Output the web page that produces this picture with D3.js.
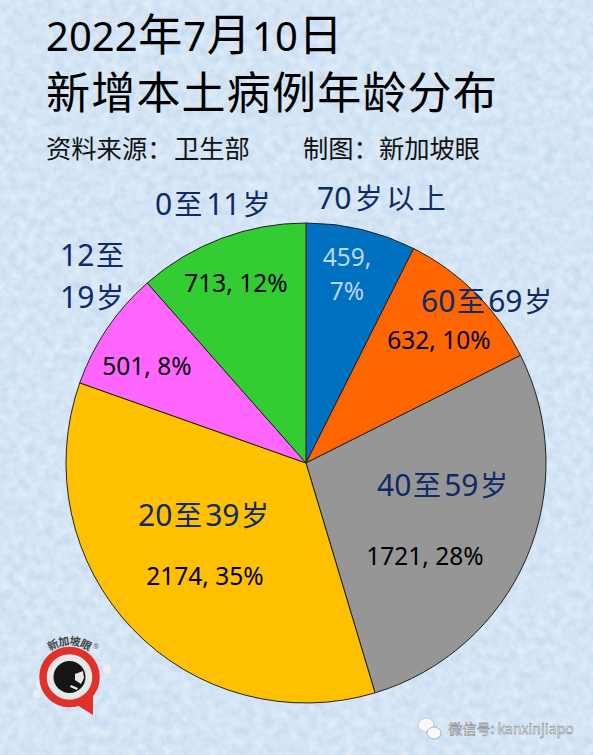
<!DOCTYPE html>
<html><head><meta charset="utf-8">
<script src="https://cdn.jsdelivr.net/npm/d3@7"></script>
<style>html,body{margin:0;padding:0;background:#d4e4f6}svg{display:block}</style>
</head><body><div id="c"></div>
<script>
const categories=["70岁以上","60至69岁","40至59岁","20至39岁","12至19岁","0至11岁"];
const cases=[459,632,1721,2174,501,713];
const percents=[7,10,28,35,8,12];
const colors=["#0070c0","#ff6600","#969696","#ffc000","#ff66ff","#33cc33"];
const W=593,H=755,cx=306,cy=463,R=240;
const svg=d3.select("#c").append("svg").attr("width",W).attr("height",H);
const defs=svg.append("defs");
const f=defs.append("filter").attr("id","paper").attr("x",0).attr("y",0).attr("width","100%").attr("height","100%").attr("color-interpolation-filters","sRGB");
f.append("feTurbulence").attr("type","fractalNoise").attr("baseFrequency","0.11").attr("numOctaves",4).attr("seed",7);
f.append("feColorMatrix").attr("type","matrix").attr("values","0.16 0 0 0 0.75  0.11 0 0 0 0.84  0.05 0 0 0 0.935  0 0 0 0 1");
svg.append("rect").attr("width",W).attr("height",H).attr("filter","url(#paper)");

const CJK='"Noto Sans CJK SC"',LAT='"Noto Sans","Open Sans",sans-serif';
function mixed(parent,s,x,y,size,latSize,fill,gap=0){
  const t=parent.append("text").attr("x",x).attr("y",y).attr("fill",fill);
  (s.match(/[\u3000-\u9fff\uff00-\uffef]+|[^\u3000-\u9fff\uff00-\uffef]+/g)||[]).forEach((r,k)=>{
    const isC=/[\u3000-\u9fff\uff00-\uffef]/.test(r[0]);
    t.append("tspan").attr("font-family",isC?CJK:LAT).attr("font-size",isC?size:latSize)
      .attr("dx",k?gap:0).attr("letter-spacing",isC?gap:0).text(r);
  });
  return t;
}
// titles
mixed(svg,"2022年7月10日",46,50.5,44,40,"#000",0.6);
mixed(svg,"新增本土病例年龄分布",46,109,44,40,"#000",1.2);
mixed(svg,"资料来源：",46,158,25.3,25,"#111");
mixed(svg,"卫生部",174,158,25.3,25,"#111");
mixed(svg,"制图：新加坡眼",303,158,25.3,25,"#111");

// pie
const pie=d3.pie().sort(null).value(d=>d)(cases);
const arc=d3.arc().innerRadius(0).outerRadius(R);
svg.append("g").attr("transform",`translate(${cx},${cy})`)
  .selectAll("path").data(pie).join("path").attr("d",arc)
  .attr("fill",(d,i)=>colors[i]).attr("stroke","#222").attr("stroke-width",1);

// value labels
const vals=svg.append("g").attr("text-anchor","middle").attr("font-family",LAT).attr("font-size",24.5);
vals.append("text").attr("x",347).attr("y",266).attr("fill","#bdd7ee").text(cases[0]+",");
vals.append("text").attr("x",347).attr("y",300).attr("fill","#bdd7ee").text(percents[0]+"%");
const valPos={1:[439,349],2:[425,565],3:[205,585],4:[147,375],5:[236,292]};
Object.keys(valPos).forEach(i=>{
  vals.append("text").attr("x",valPos[i][0]).attr("y",valPos[i][1]).attr("fill","#000")
    .text(cases[i]+", "+percents[i]+"%");
});

// category labels
const navy="#0f2a66";
const catPos=[[317,209],[421,312],[377,496],[138,526],null,[155,215]];
const catGap=[3.5,1.6,1.6,1.6,0,2];
categories.forEach((c,i)=>{
  if(catPos[i]) mixed(svg,c,catPos[i][0],catPos[i][1],28,30,navy,catGap[i]);
});
mixed(svg,"12至",60,266,28,30,navy,1.6);
mixed(svg,"19岁",60,308,28,30,navy,1.6);

// logo
const logo=svg.append("g");
logo.selectAll("circle.w").data([[107,669,4.5],[42,684,6],[37,694,4],[49,690,6]]).join("circle")
  .attr("cx",d=>d[0]).attr("cy",d=>d[1]).attr("r",d=>d[2]).attr("fill","#eef1f3").attr("opacity",.8);
logo.append("path").attr("d","M77 705 L93 715 L93 690 Z").attr("fill","#e1312a");
logo.append("circle").attr("cx",69.5).attr("cy",677).attr("r",26.5).attr("fill","#e8e8e6").attr("stroke","#e1312a").attr("stroke-width",7.5);
logo.append("circle").attr("cx",69.5).attr("cy",677).attr("r",16).attr("fill","#151515");
logo.append("path").attr("d","M75 674 L83 671 L84 678 L81 684 L75 680 Z").attr("fill","#e8e8e6");
logo.append("path").attr("d","M71 685 L78 688 L77 690 L70 687 Z").attr("fill","#e8e8e6");
[..."新加坡眼"].forEach((ch,i)=>{
  const deg=(i-1.5)*18;
  logo.append("text").attr("text-anchor","middle").attr("font-family",CJK).attr("font-weight",700)
    .attr("font-size",11).attr("fill","#444")
    .attr("transform",`translate(69.5,677) rotate(${deg}) translate(0,-32)`).text(ch);
});
logo.append("text").attr("x",96).attr("y",649).attr("text-anchor","middle").attr("font-family",LAT).attr("font-size",7).attr("fill","#666").text("®");

// footer
const ft=svg.append("g");
ft.append("ellipse").attr("cx",426).attr("cy",725).attr("rx",8).attr("ry",7).attr("fill","#f8f8f8").attr("stroke","#aaa").attr("stroke-width",.6);
ft.append("ellipse").attr("cx",434).attr("cy",733).attr("rx",7).attr("ry",6).attr("fill","#f8f8f8").attr("stroke","#888").attr("stroke-width",.6);
ft.append("text").attr("x",448.5).attr("y",734).attr("font-family",CJK).attr("font-size",14).attr("fill","#f5f5f5")
  .attr("stroke","#666").attr("stroke-width",.4).text("微信号: kanxinjiapo");
</script></body></html>
